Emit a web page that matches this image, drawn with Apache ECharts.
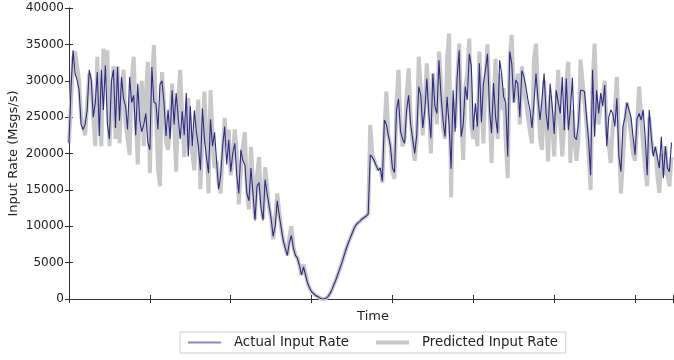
<!DOCTYPE html>
<html>
<head>
  <meta charset="utf-8">
  <title>Input Rate</title>
</head>
<body style="margin:0">
  <div id="main" style="width:674px;height:360px;"></div>
  <script src="https://cdn.jsdelivr.net/npm/echarts@6/dist/echarts.min.js"></script>
  <script>
    // 40 samples between two x ticks (one row = one tick interval)
    const actualRate = [
      21400, 29000, 34200, 31000, 30100, 28700, 24000, 23300, 24000, 26000, 31500, 30100, 25000, 27000, 31200, 22400, 31500, 26000, 32100, 24000,
      22000, 30000, 31500, 23500, 31900, 24500, 30500, 27500, 26500, 23300, 30500, 27000, 28000, 22500, 29600, 24500, 23000, 24000, 25500, 21500,

      20500, 31900, 27000, 26900, 23300, 29500, 30000, 26900, 22400, 26000, 22000, 28700, 24000, 28300, 25000, 22000, 25800, 22500, 28300, 19600,
      26500, 21000, 25900, 23000, 21000, 17700, 26200, 22000, 19500, 17300, 24700, 21000, 22900, 19000, 15100, 16900, 21000, 23700, 18500, 21900,

      17500, 20000, 21400, 17000, 14500, 20500, 19000, 18500, 14500, 13500, 18000, 14500, 10800, 15500, 16000, 12500, 10800, 16400, 14500, 12800,
      11000, 8600, 10000, 13500, 11500, 9700, 8000, 7000, 6000, 7800, 8700, 7000, 6000, 5600, 4600, 3300, 4400, 3300, 2200, 1500,

      1000, 750, 480, 330, 170, 40, 0, 80, 300, 700, 1250, 1950, 2600, 3400, 4200, 5000, 5900, 6800, 7600, 8300,
      9000, 9700, 10200, 10500, 10700, 11000, 11200, 11400, 11700, 19800, 19500, 19000, 18300, 17700, 18000, 16200, 24600, 24000, 22500, 21000,

      18000, 17400, 26000, 27500, 23000, 22000, 21400, 26000, 28000, 24000, 22000, 20000, 22500, 29200, 28000, 23500, 26000, 30300, 25500, 22100,
      31000, 26500, 25500, 32800, 28000, 24600, 22300, 27800, 24000, 17900, 28700, 23000, 30500, 34200, 22300, 24000, 29200, 27400, 33700, 32000,

      23200, 26900, 23700, 32400, 24300, 29600, 31500, 33700, 26000, 22800, 29700, 25000, 22800, 32800, 31000, 27800, 27000, 19600, 34000, 32400,
      27000, 30100, 29600, 25000, 31400, 30600, 29200, 27400, 26000, 23500, 27000, 31000, 27400, 24600, 27500, 31000, 25500, 23200, 29600, 26500,

      22700, 28700, 27000, 25500, 30500, 23200, 30300, 23200, 26000, 30400, 22300, 21900, 24200, 28700, 28700, 28500, 25000, 21900, 17000, 31500,
      22300, 28700, 25500, 28300, 26500, 29400, 21000, 25000, 26000, 25500, 23700, 27600, 19600, 17500, 23700, 25000, 27000, 26000, 25000, 22300,

      19800, 24800, 25500, 24600, 26000, 22300, 17000, 26000, 22300, 19600, 20900, 19500, 18000, 22300, 16600, 21000, 18000, 17500, 21500
    ];
    const predictedRate = [
      21500, 27000, 33000, 34000, 32000, 30000, 25000, 23500, 22500, 27000, 31000, 29500, 25000, 21000, 33300, 25000, 21000, 34400, 30000, 34200,
      21000, 27000, 32000, 22000, 32000, 21400, 29000, 31500, 24000, 22000, 19800, 30000, 33300, 25000, 18500, 27000, 30000, 21000, 28000, 32600,

      17300, 30000, 34900, 26000, 18000, 15500, 31200, 27000, 21500, 20500, 24000, 29600, 24000, 17500, 27000, 31500, 25000, 19500, 24000, 27600,
      22000, 20000, 17700, 24000, 27400, 15100, 22000, 28500, 22000, 14500, 28700, 22000, 18000, 19000, 16000, 14500, 20000, 24900, 21000, 23300,

      17000, 19500, 23300, 20000, 13000, 17500, 21000, 22900, 15000, 12300, 20900, 16000, 11000, 17000, 19500, 13500, 11000, 18100, 15500, 12500,
      11000, 8200, 11000, 14500, 12000, 9700, 8000, 7000, 6000, 8500, 10000, 7200, 6000, 5600, 4600, 3300, 4800, 3500, 2200, 1500,

      1000, 750, 480, 330, 170, 40, 0, 80, 300, 700, 1250, 1950, 2600, 3400, 4200, 5000, 5900, 6800, 7600, 8300,
      9000, 9700, 10200, 10500, 10700, 11000, 11200, 11400, 11700, 23900, 20000, 19000, 18300, 17700, 18000, 16000, 23000, 28500, 22500, 21000,

      17500, 16500, 27000, 31500, 24000, 21000, 22000, 28000, 31700, 25000, 21500, 19000, 22000, 33300, 29000, 22500, 27000, 32400, 27000, 20000,
      31000, 28000, 24000, 34000, 30000, 23500, 22000, 33000, 36500, 14000, 27000, 23500, 30000, 35100, 25000, 19100, 29000, 31000, 35800, 24000,

      22000, 24000, 21000, 34000, 27000, 21400, 30000, 35000, 27000, 18700, 27000, 33000, 22000, 31000, 26000, 29000, 22000, 16600, 33000, 36300,
      27000, 29000, 31000, 24000, 32000, 29000, 27000, 25000, 23000, 21400, 33000, 35100, 28000, 22000, 20500, 30000, 25000, 18900, 28000, 24000,

      19600, 26000, 31500, 24000, 19600, 24000, 30000, 32600, 18700, 26000, 22000, 19000, 22000, 32900, 30000, 27000, 24000, 20000, 15000, 30000,
      35100, 26000, 24000, 27000, 27500, 30000, 23000, 21000, 18700, 24000, 26000, 30500, 22000, 14500, 19000, 24000, 27000, 25000, 22500, 20000,

      19000, 24000, 29200, 25000, 21000, 18000, 15500, 25000, 22000, 20000, 21000, 17000, 14600, 20000, 17000, 21000, 17000, 15500, 19500
    ];
    const samplesPerTick = 40;
    const xMax = 605 / 81 * samplesPerTick;

    const toPoints = arr => arr.map((v, i) => [i, v]);

    const axisColor = '#333';
    const chart = echarts.init(document.getElementById('main'));
    chart.setOption({
      animation: false,
      grid: { left: 69, right: 1, top: 8, bottom: 61, outerBoundsMode: 'none', containLabel: false },
      legend: {
        left: 180,
        top: 332,
        padding: [4, 8, 4, 8],
        borderColor: '#ccc',
        borderWidth: 1,
        borderRadius: 0,
        itemWidth: 33,
        itemHeight: 12,
        itemGap: 27,
        textStyle: { fontFamily: 'DejaVu Sans', fontSize: 13.3, color: '#222', padding: [0, 0, 0, 8] },
        data: [
          { name: 'Actual Input Rate', icon: 'path://M0,0 L33,0 L33,2 L0,2 Z', itemStyle: { color: '#8c85c5' } },
          { name: 'Predicted Input Rate', icon: 'path://M0,0 L33,0 L33,4 L0,4 Z', itemStyle: { color: '#c8c8c8' } }
        ]
      },
      xAxis: [
        {
          type: 'value', min: 0, max: xMax, interval: samplesPerTick,
          name: 'Time', nameLocation: 'middle', nameGap: 11, nameMoveOverlap: false,
          nameTextStyle: { fontFamily: 'DejaVu Sans', fontSize: 13, color: '#222', verticalAlign: 'top', padding: [0, 0, 0, 4] },
          axisLine: { lineStyle: { color: axisColor } },
          axisTick: { inside: true, length: 4, lineStyle: { color: axisColor } },
          axisLabel: { show: false },
          splitLine: { show: false }
        },
        {
          type: 'value', position: 'top', min: 0, max: xMax, interval: samplesPerTick,
          axisLine: { lineStyle: { color: axisColor } },
          axisTick: { inside: true, length: 4, lineStyle: { color: axisColor } },
          axisLabel: { show: false },
          splitLine: { show: false }
        }
      ],
      yAxis: [
        {
          type: 'value', min: 0, max: 40000, interval: 5000,
          name: 'Input Rate (Msgs/s)', nameLocation: 'middle', nameGap: 49, nameMoveOverlap: false,
          nameTextStyle: { fontFamily: 'DejaVu Sans', fontSize: 13, color: '#222' },
          axisLine: { show: true, lineStyle: { color: axisColor } },
          axisTick: { show: true, inside: true, length: 4, lineStyle: { color: axisColor } },
          axisLabel: { margin: 5, fontFamily: 'DejaVu Sans', fontSize: 12, color: '#222', formatter: v => String(v) },
          splitLine: { show: false }
        },
        {
          type: 'value', position: 'right', min: 0, max: 40000, interval: 5000,
          axisLine: { show: true, lineStyle: { color: axisColor } },
          axisTick: { show: true, inside: true, length: 4, lineStyle: { color: axisColor } },
          axisLabel: { show: false },
          splitLine: { show: false }
        }
      ],
      series: [
        {
          name: 'Predicted Input Rate', type: 'line', data: toPoints(predictedRate),
          showSymbol: false, symbol: 'none',
          lineStyle: { color: '#c8c8c8', width: 4 }, itemStyle: { color: '#c8c8c8' }
        },
        {
          name: 'Actual Input Rate', type: 'line', data: toPoints(actualRate),
          showSymbol: false, symbol: 'none',
          lineStyle: { color: '#2f2a88', width: 1.1 }, itemStyle: { color: '#2f2a88' }
        }
      ]
    });
  </script>
</body>
</html>
